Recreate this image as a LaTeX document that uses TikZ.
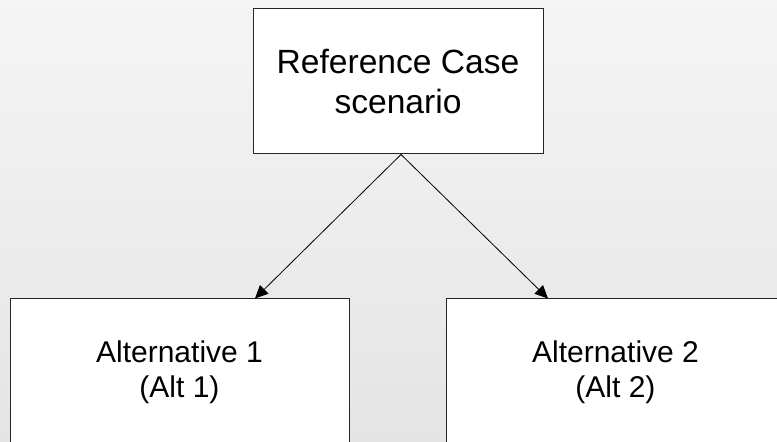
\documentclass[tikz,border=0pt]{standalone}
\usepackage{fontspec}
\setmainfont{Liberation Sans}
\usetikzlibrary{arrows.meta,calc}

\begin{document}
\begin{tikzpicture}[x=1pt, y=1pt, >={Triangle[length=13pt, width=12pt]},
  box/.style={draw=black!85, line width=1pt, fill=white, align=center,
    inner sep=0pt}]

\def\W{777}
\def\H{442}

\useasboundingbox (0,0) rectangle (\W,\H);
\shade[top color=gray!8, bottom color=gray!21] (0,0) rectangle (\W,\H);

\node[box, minimum width=290, minimum height=145,
  font=\fontsize{33.6}{40}\selectfont] (ref) at (398,360.5)
  {Reference Case\\scenario};

\node[box, minimum width=339, minimum height=146,
  font=\fontsize{30}{35}\selectfont] (alt1) at (179.5,70)
  {Alternative 1\\(Alt 1)};
\node[box, minimum width=339, minimum height=146,
  font=\fontsize{30}{35}\selectfont] (alt2) at (615.5,70)
  {Alternative 2\\(Alt 2)};

\draw[->, line width=0.8pt] ($(ref.south)+(3,0)$) -- ($(alt1.north)+(75.5,0)$);
\draw[->, line width=0.8pt] ($(ref.south)+(3,0)$) -- ($(alt2.north)+(-67.5,0)$);

\end{tikzpicture}
\end{document}
